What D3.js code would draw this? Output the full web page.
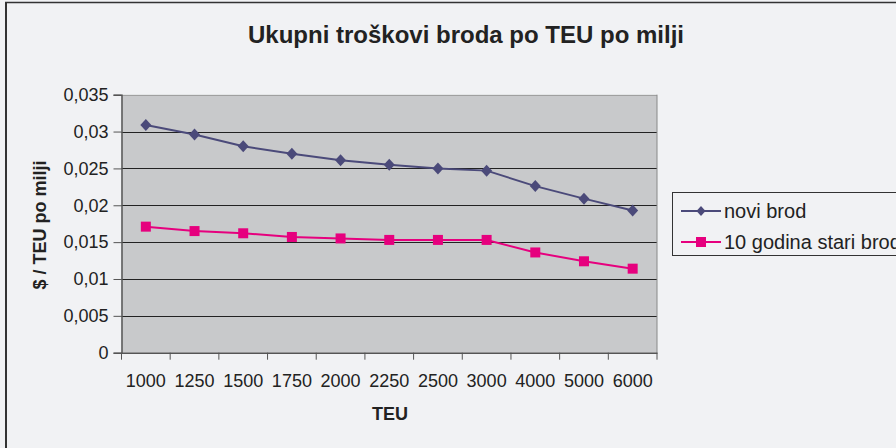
<!DOCTYPE html>
<html><head><meta charset="utf-8">
<script src="https://cdn.jsdelivr.net/npm/d3@7"></script>
<style>html,body{margin:0;padding:0;background:#f1f2f4;}svg{display:block;font-family:"Liberation Sans",Arial,sans-serif;}</style>
</head><body>
<svg id="c" width="896" height="448"></svg>
<script>
const categories = ["1000","1250","1500","1750","2000","2250","2500","3000","4000","5000","6000"];
const noviBrod = [0.0309,0.0296,0.0280,0.0270,0.0261,0.0255,0.0250,0.0247,0.0226,0.0209,0.0193];
const stariBrod = [0.0171,0.0165,0.0162,0.0157,0.0155,0.0153,0.0153,0.0153,0.0136,0.0124,0.0114];
const yTicks = [0,0.005,0.01,0.015,0.02,0.025,0.03,0.035];
const seriesNames = ["novi brod","10 godina stari brod"];
const colors = ["#4b4a7a","#e6007e"];

const svg = d3.select("#c");
svg.append("rect").attr("x",0).attr("y",0).attr("width",896).attr("height",448).attr("fill","#f1f2f4");
svg.append("line").attr("x1",6).attr("x2",6).attr("y1",2).attr("y2",448).attr("stroke","#333").attr("stroke-width",2);
svg.append("line").attr("x1",5).attr("x2",896).attr("y1",2.5).attr("y2",2.5).attr("stroke","#333").attr("stroke-width",1.5);

const L=121.5, R=657, T=94.7, B=352.7;
const x = d3.scaleBand().domain(categories).range([L,R]);
const y = d3.scaleLinear().domain([0,0.035]).range([B,T]);

svg.append("rect").attr("x",L).attr("y",T).attr("width",R-L).attr("height",B-T).attr("fill","#c8c9cb");
svg.append("g").selectAll("line").data(yTicks.filter(d=>d>0)).join("line")
  .attr("x1",L).attr("x2",R).attr("y1",d=>Math.round(y(d))+0.5).attr("y2",d=>Math.round(y(d))+0.5)
  .attr("stroke",d=>d===0.035?"#a0a0a0":"#222").attr("stroke-width",1);
svg.append("line").attr("x1",R).attr("x2",R).attr("y1",T).attr("y2",B).attr("stroke","#888");

const fmt = d => String(+d.toFixed(3)).replace(".",",");
const yAxis = d3.axisLeft(y).tickValues(yTicks).tickFormat(fmt).tickSize(8).tickPadding(5);
const gy = svg.append("g").attr("transform",`translate(${L},0)`).call(yAxis);
gy.select(".domain").attr("stroke","#555").attr("stroke-width",1.5);
gy.selectAll(".tick line").attr("stroke","#555");
gy.selectAll("text").attr("font-size",18).attr("fill","#222").attr("font-family","Liberation Sans, Arial, sans-serif");

const xAxis = d3.axisBottom(x).tickSize(0).tickPadding(22);
const gx = svg.append("g").attr("transform",`translate(0,${B})`).call(xAxis);
gx.select(".domain").attr("stroke","#555").attr("stroke-width",1.5);
gx.selectAll("text").attr("font-size",18).attr("fill","#222").attr("font-family","Liberation Sans, Arial, sans-serif");
const bounds = categories.map(c=>x(c)).concat([R]);
svg.append("g").selectAll("line").data(bounds).join("line")
  .attr("x1",d=>d).attr("x2",d=>d).attr("y1",B).attr("y2",B+7).attr("stroke","#555");

const cx = c => x(c)+x.bandwidth()/2;
const line = d3.line().x((d,i)=>cx(categories[i])).y(d=>y(d));
[noviBrod, stariBrod].forEach((s,k)=>{
  svg.append("path").datum(s).attr("d",line).attr("fill","none").attr("stroke",colors[k]).attr("stroke-width",2);
});
const diamond = (w,h) => `M0,${-h}L${w},0L0,${h}L${-w},0Z`;
svg.append("g").selectAll("path").data(noviBrod).join("path")
  .attr("d",diamond(5.5,6))
  .attr("transform",(d,i)=>`translate(${cx(categories[i])},${y(d)})`).attr("fill",colors[0]);
svg.append("g").selectAll("rect").data(stariBrod).join("rect")
  .attr("x",(d,i)=>cx(categories[i])-5).attr("y",d=>y(d)-5).attr("width",10).attr("height",10).attr("fill",colors[1]);

svg.append("text").attr("x",466).attr("y",43).attr("text-anchor","middle").attr("font-size",24).attr("font-weight","bold").attr("fill","#222").text("Ukupni troškovi broda po TEU po milji");
svg.append("text").attr("x",390).attr("y",420).attr("text-anchor","middle").attr("font-size",18).attr("font-weight","bold").attr("fill","#222").text("TEU");
svg.append("text").attr("transform","translate(46,225) rotate(-90)").attr("text-anchor","middle").attr("font-size",18).attr("font-weight","bold").attr("fill","#222").text("$ / TEU po milji");

const lg = svg.append("g");
lg.append("rect").attr("x",672.5).attr("y",192.5).attr("width",260).attr("height",63).attr("fill","#f1f2f4").attr("stroke","#333");
const ly = [211, 242];
seriesNames.forEach((n,k)=>{
  lg.append("line").attr("x1",681).attr("x2",721).attr("y1",ly[k]).attr("y2",ly[k]).attr("stroke",colors[k]).attr("stroke-width",2);
  if(k===0) lg.append("path").attr("d",diamond(4.5,5)).attr("transform",`translate(701,${ly[k]})`).attr("fill",colors[0]);
  else lg.append("rect").attr("x",696).attr("y",ly[k]-5).attr("width",10).attr("height",10).attr("fill",colors[1]);
  lg.append("text").attr("x",724).attr("y",ly[k]+7).attr("font-size",20).attr("fill","#222").text(n);
});
</script>
</body></html>
